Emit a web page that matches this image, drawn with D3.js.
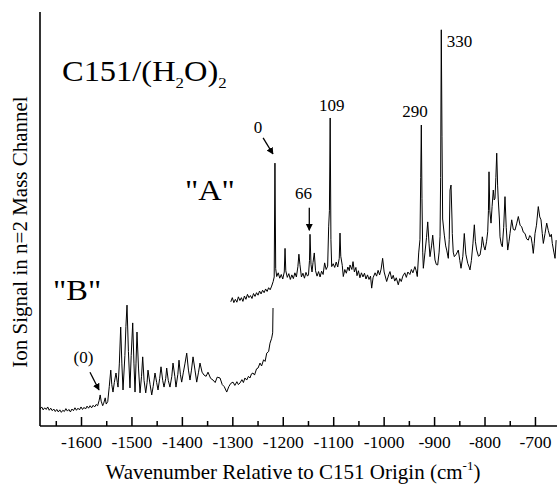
<!DOCTYPE html>
<html>
<head>
<meta charset="utf-8">
<script src="https://cdn.jsdelivr.net/npm/d3@7"></script>
<style>
  body { margin: 0; background: #fff; }
  svg text { font-family: "Liberation Serif", "DejaVu Serif", serif; fill: #000; }
</style>
</head>
<body>
<div id="chart"></div>
<script>
// Band "A" spectrum: [wavenumber (cm-1), ion signal (arb.)]
const traceA = [
  [-1303, 30.0], [-1300, 31.0], [-1297, 29.8], [-1294, 30.6], [-1291, 29.9], [-1288, 31.2],
  [-1285, 30.3], [-1282, 31.0], [-1279, 30.1], [-1276, 31.4], [-1273, 30.6], [-1270, 31.8],
  [-1267, 31.0], [-1264, 31.5], [-1261, 30.8], [-1258, 32.0], [-1255, 31.3], [-1252, 32.2],
  [-1249, 31.6], [-1246, 32.6], [-1243, 31.9], [-1240, 32.8], [-1237, 32.2], [-1234, 33.1],
  [-1231, 32.5], [-1228, 33.4], [-1225, 32.9], [-1222, 33.8], [-1219, 34.9], [-1217, 36.0],
  [-1215.5, 63.5], [-1214, 38.0], [-1212, 36.1], [-1209, 37.0], [-1206, 35.7], [-1203, 36.6],
  [-1200, 35.5], [-1197, 37.2], [-1195.5, 42.9], [-1194, 37.5], [-1191, 35.9], [-1188, 36.8],
  [-1185, 35.4], [-1182, 36.5], [-1179, 35.6], [-1176, 37.0], [-1173, 36.0], [-1170, 38.5],
  [-1168, 41.5], [-1166, 39.0], [-1163, 36.0], [-1160, 36.9], [-1157, 35.7], [-1154, 37.1],
  [-1151, 36.2], [-1149, 36.5], [-1147, 40.0], [-1146, 46.3], [-1144, 39.0], [-1142, 37.2],
  [-1140, 39.5], [-1137.5, 41.8], [-1135, 37.5], [-1132, 36.2], [-1129, 37.3], [-1126, 36.0],
  [-1123, 37.4], [-1120, 36.6], [-1117, 39.4], [-1114, 37.8], [-1111, 38.6], [-1109, 48.1],
  [-1107.5, 52.0], [-1106, 74.4], [-1104.5, 45.0], [-1103, 38.5], [-1100, 39.2], [-1097, 38.3],
  [-1094, 39.6], [-1091, 38.4], [-1088, 40.5], [-1086.5, 46.6], [-1085, 41.0], [-1082, 38.8],
  [-1080, 36.1], [-1077, 37.8], [-1074, 36.9], [-1071, 38.4], [-1068, 37.5], [-1066.7, 38.9],
  [-1063, 37.8], [-1060.7, 39.7], [-1058, 37.2], [-1055, 38.3], [-1052.8, 36.3], [-1050, 37.5],
  [-1047, 35.8], [-1044, 37.0], [-1041, 36.0], [-1038, 36.9], [-1035, 35.5], [-1032, 36.5],
  [-1029, 35.4], [-1026, 36.2], [-1023.7, 33.3], [-1021, 35.8], [-1017, 37.0], [-1014, 36.2],
  [-1011, 37.6], [-1008, 36.5], [-1005, 37.9], [-1002, 40.5], [-999, 37.2], [-994, 34.9],
  [-990, 36.5], [-987.4, 37.3], [-984, 35.5], [-981, 36.4], [-978, 35.0], [-975, 35.8],
  [-971, 34.1], [-968, 35.6], [-965, 34.9], [-962, 36.2], [-958, 37.0], [-955, 35.9],
  [-952, 37.2], [-948, 36.6], [-945, 37.8], [-942, 37.0], [-938, 38.5], [-935.5, 37.5],
  [-933.3, 36.1], [-930.5, 41.8], [-928, 45.0], [-926.5, 60.0], [-925.3, 72.7], [-924, 55.0],
  [-922.5, 42.0], [-921.3, 38.1], [-918, 42.0], [-915, 45.5], [-912.6, 49.3], [-910, 44.0],
  [-908.1, 40.9], [-905, 43.5], [-902.7, 46.1], [-900, 42.5], [-898.2, 40.1], [-895.5, 39.0],
  [-892.8, 38.9], [-890, 42.0], [-888.2, 45.7], [-887, 60.0], [-885.7, 95.7], [-884.3, 70.0],
  [-883, 50.0], [-879.7, 46.1], [-877, 43.5], [-875, 42.5], [-871.8, 40.5], [-870, 45.0],
  [-868.4, 57.0], [-866.4, 58.2], [-864.5, 50.0], [-863.9, 46.5], [-862, 42.0], [-859.9, 40.9],
  [-856, 41.5], [-852, 42.5], [-849, 40.0], [-846.6, 38.1], [-843, 41.0], [-840.1, 46.5],
  [-837, 41.5], [-833.3, 39.3], [-830.5, 38.4], [-828.8, 37.7], [-826, 40.0], [-823, 44.0],
  [-820.2, 48.6], [-818, 44.5], [-815.5, 42.5], [-812, 41.0], [-808.9, 41.3], [-806, 43.5],
  [-804.4, 45.7], [-801.5, 43.5], [-799, 42.5], [-796, 44.5], [-793.7, 46.9], [-792.2, 52.0],
  [-791.1, 61.4], [-789.5, 52.0], [-787.1, 49.0], [-785, 53.0], [-782.6, 57.0], [-780.8, 54.6],
  [-779.2, 55.0], [-777.5, 60.0], [-775.8, 65.9], [-774, 58.0], [-772.7, 54.6], [-770.5, 50.0],
  [-769.3, 45.7], [-767, 44.0], [-764.7, 43.3], [-762, 48.0], [-759.4, 55.4], [-757, 48.0],
  [-754, 42.5], [-751.5, 44.5], [-749.5, 46.5], [-746.1, 49.8], [-743, 47.5], [-739.6, 47.3],
  [-736, 49.0], [-733, 50.6], [-729.5, 48.5], [-726.3, 48.1], [-723, 46.8], [-719.7, 46.5],
  [-716.5, 45.2], [-713.2, 44.9], [-710.5, 46.0], [-707.8, 45.7], [-705.5, 44.0], [-703.3, 41.7],
  [-701.5, 44.0], [-699.9, 46.5], [-697, 48.5], [-693.4, 53.0], [-690.5, 50.5], [-688, 49.8],
  [-685.5, 46.5], [-683.4, 44.1], [-680, 46.5], [-676.7, 49.0], [-673.5, 47.2], [-670.2, 45.7],
  [-667.5, 46.3], [-665.6, 44.1], [-662.5, 42.0], [-660.2, 40.5], [-658, 44.9]
];

// Band "B" spectrum
const traceB = [
  [-1681, 4.1], [-1678, 4.6], [-1675, 3.9], [-1672, 4.4], [-1669, 4.0], [-1666, 4.6],
  [-1663, 3.8], [-1660, 4.3], [-1657, 3.7], [-1654, 4.1], [-1651, 3.5], [-1648, 4.0],
  [-1645, 3.4], [-1642, 3.9], [-1639, 3.3], [-1636, 3.8], [-1633, 3.5], [-1630, 4.2],
  [-1627, 3.6], [-1624, 4.0], [-1621, 3.4], [-1618, 4.1], [-1615, 3.7], [-1612, 4.4],
  [-1609, 3.8], [-1606, 4.3], [-1603, 3.9], [-1600, 4.6], [-1597, 4.0], [-1594, 4.5],
  [-1591, 4.1], [-1588, 4.8], [-1585, 4.3], [-1582, 4.9], [-1579, 4.4], [-1576, 5.0],
  [-1573, 4.6], [-1570, 5.2], [-1567, 4.9], [-1564, 6.2], [-1562, 7.5], [-1560, 6.0],
  [-1557, 4.9], [-1555, 5.5], [-1552, 6.8], [-1550, 5.3], [-1547, 5.9], [-1544, 9.5],
  [-1541, 13.5], [-1539, 10.0], [-1536.6, 8.2], [-1534, 10.5], [-1530.6, 12.8], [-1528, 10.5],
  [-1526.6, 9.4], [-1524, 15.0], [-1521.3, 23.9], [-1519, 15.0], [-1516.7, 8.7], [-1513, 17.0],
  [-1511, 24.0], [-1508.8, 29.2], [-1506, 18.0], [-1502.9, 9.2], [-1500.5, 17.0], [-1497.5, 24.9],
  [-1495, 15.0], [-1492.9, 8.2], [-1491, 15.0], [-1489, 22.7], [-1486, 14.0], [-1483, 8.0],
  [-1480, 12.0], [-1477.7, 16.7], [-1475, 11.0], [-1471.7, 8.0], [-1469, 10.5], [-1467.2, 13.5],
  [-1463, 10.0], [-1459.8, 7.5], [-1457, 9.5], [-1453.3, 12.8], [-1450, 10.5], [-1447.3, 8.7],
  [-1444, 11.5], [-1441.4, 14.3], [-1438, 11.0], [-1435.4, 9.4], [-1432, 11.5], [-1430.1, 14.0],
  [-1427, 11.0], [-1423.6, 9.4], [-1420, 12.0], [-1417.6, 15.2], [-1414, 12.0], [-1411.7, 9.4],
  [-1408, 12.5], [-1405.7, 15.9], [-1403, 12.5], [-1400.4, 10.6], [-1397, 13.0], [-1394, 15.0],
  [-1390.4, 17.6], [-1387, 13.5], [-1383.9, 11.1], [-1381, 13.5], [-1377.9, 16.7], [-1374, 13.5],
  [-1370.6, 10.6], [-1367, 13.0], [-1364.1, 15.2], [-1360, 13.0], [-1356.1, 12.3], [-1352, 12.0],
  [-1348.2, 13.0], [-1343, 11.5], [-1338.3, 11.1], [-1334, 10.5], [-1330, 11.8], [-1324.4, 11.6],
  [-1320, 10.0], [-1316, 9.5], [-1311.1, 8.2], [-1307, 9.5], [-1303, 10.3], [-1298.6, 10.6],
  [-1295, 9.8], [-1291, 10.7], [-1288, 10.0], [-1284.8, 10.4], [-1281, 11.2], [-1278, 10.5],
  [-1275, 11.6], [-1271.5, 11.1], [-1268, 12.0], [-1265, 11.6], [-1262, 12.6], [-1259, 12.8],
  [-1256, 12.3], [-1252, 13.8], [-1249, 14.0], [-1245.1, 15.2], [-1242, 14.5], [-1238, 16.0],
  [-1235, 15.6], [-1231.8, 17.6], [-1228, 18.0], [-1225.3, 20.0], [-1222, 21.2], [-1220, 22.5],
  [-1219.3, 28.5]
];

const majorTicks = [-1600, -1500, -1400, -1300, -1200, -1100, -1000, -900, -800, -700];
const minorTicks = [-1650, -1550, -1450, -1350, -1250, -1150, -1050, -950, -850, -750];

// peak labels: text, x, y (data units)
const peakLabels = [
  { text: "0",   x: -1249, y: 70.8, anchor: "middle" },
  { text: "66",  x: -1159, y: 54.8, anchor: "middle" },
  { text: "109", x: -1103, y: 76.2, anchor: "middle" },
  { text: "290", x: -938,  y: 74.6, anchor: "middle" },
  { text: "330", x: -875,  y: 91.5, anchor: "start" },
  { text: "(0)", x: -1595, y: 15.2, anchor: "middle" }
];
// arrows: from -> to (data units)
const arrows = [
  { x1: -1239, y1: 69.6, x2: -1219.4, y2: 65.7 },
  { x1: -1147.4, y1: 52.7, x2: -1147.4, y2: 47.3 },
  { x1: -1582.2, y1: 13.0, x2: -1564.3, y2: 8.7 }
];
const bandLabels = [
  { text: "\"A\"", x: -1394, y: 54.6 },
  { text: "\"B\"", x: -1655.5, y: 30.4 }
];

const width = 557, height = 485;
const margin = { left: 40, right: 0, top: 12, bottom: 59 };
const serif = '"Liberation Serif", "DejaVu Serif", serif';

const svg = d3.select('#chart').append('svg')
  .attr('width', width)
  .attr('height', height);

const x = d3.scaleLinear().domain([-1681.3, -656.3]).range([margin.left, width - margin.right]);
const y = d3.scaleLinear().domain([0, 100]).range([height - margin.bottom, margin.top]);

const defs = svg.append('defs');
defs.append('marker')
  .attr('id', 'head')
  .attr('viewBox', '0 0 10 10')
  .attr('refX', 9).attr('refY', 5)
  .attr('markerWidth', 7).attr('markerHeight', 8)
  .attr('markerUnits', 'userSpaceOnUse')
  .attr('orient', 'auto')
  .append('path')
  .attr('d', 'M0,0 L10,5 L0,10 z')
  .attr('fill', '#000');

// spectra
const line = d3.line().x(d => x(d[0])).y(d => y(d[1]));
svg.selectAll('path.trace')
  .data([traceB, traceA])
  .join('path')
  .attr('class', 'trace')
  .attr('d', line)
  .attr('fill', 'none')
  .attr('stroke', '#000')
  .attr('stroke-width', 1)
  .attr('stroke-linejoin', 'round');

// x axis, ticks pointing inward
const xAxis = svg.append('g').attr('transform', `translate(0,${y(0)})`);
xAxis.call(d3.axisBottom(x).tickValues(majorTicks).tickSize(-9).tickPadding(16.5)
  .tickFormat(d => String(d)));
xAxis.attr('font-family', serif);
xAxis.select('.domain').remove();
xAxis.selectAll('.tick line').attr('stroke-width', 1.5);
xAxis.selectAll('.tick text')
  .style('font-family', serif)
  .style('font-size', '17.5px')
  .attr('dy', '0.32em');
const xMinor = svg.append('g').attr('transform', `translate(0,${y(0)})`);
xMinor.call(d3.axisBottom(x).tickValues(minorTicks).tickSize(-5).tickFormat(''));
xMinor.select('.domain').remove();
xMinor.selectAll('.tick line').attr('stroke-width', 1.5);

// axis lines
svg.append('line')
  .attr('x1', x.range()[0]).attr('x2', x.range()[1])
  .attr('y1', y(0)).attr('y2', y(0))
  .attr('stroke', '#000').attr('stroke-width', 1.6);
svg.append('line')
  .attr('x1', x.range()[0]).attr('x2', x.range()[0])
  .attr('y1', y(0)).attr('y2', y(100))
  .attr('stroke', '#000').attr('stroke-width', 1.6);

// axis titles
const xt = svg.append('text')
  .attr('x', 293).attr('y', 479)
  .attr('text-anchor', 'middle')
  .style('font-size', '21px');
xt.append('tspan').text('Wavenumber Relative to C151 Origin (cm');
xt.append('tspan').style('font-size', '13px').attr('dy', -9).text('-1');
xt.append('tspan').attr('dy', 9).text(')');

svg.append('text')
  .attr('transform', 'translate(27,232) rotate(-90)')
  .attr('text-anchor', 'middle')
  .style('font-size', '21px')
  .text('Ion Signal in n=2 Mass Channel');

// title (the original typeface is a little wider, hence the x stretch)
const title = svg.append('text')
  .attr('transform', `translate(${x(-1637.7)},${y(83.3)}) scale(1.12,1)`)
  .style('font-size', '29px');
title.append('tspan').text('C151/(H');
title.append('tspan').style('font-size', '15px').attr('dy', 7).text('2');
title.append('tspan').attr('dy', -7).text('O)');
title.append('tspan').style('font-size', '15px').attr('dy', 7).text('2');

// band labels
svg.selectAll('text.band')
  .data(bandLabels)
  .join('text')
  .attr('class', 'band')
  .attr('transform', d => `translate(${x(d.x)},${y(d.y)}) scale(1.12,1)`)
  .style('font-size', '29px')
  .text(d => d.text);

// peak labels
svg.selectAll('text.peak')
  .data(peakLabels)
  .join('text')
  .attr('class', 'peak')
  .attr('x', d => x(d.x)).attr('y', d => y(d.y))
  .attr('text-anchor', d => d.anchor)
  .style('font-size', '17px')
  .text(d => d.text);

svg.selectAll('line.arrow')
  .data(arrows)
  .join('line')
  .attr('class', 'arrow')
  .attr('x1', d => x(d.x1)).attr('y1', d => y(d.y1))
  .attr('x2', d => x(d.x2)).attr('y2', d => y(d.y2))
  .attr('stroke', '#000')
  .attr('stroke-width', 1.3)
  .attr('marker-end', 'url(#head)');
</script>
</body>
</html>
